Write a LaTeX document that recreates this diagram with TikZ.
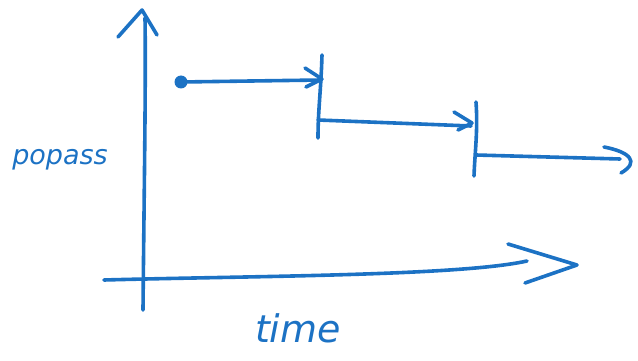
\documentclass[tikz,border=0pt]{standalone}
\usepackage{fontspec}
\setmainfont{DejaVu Sans}
\definecolor{pen}{RGB}{28,114,196}
\tikzset{
  stroke/.style={draw=pen, line width=3.6pt, line cap=round, line join=round},
  label/.style={text=pen, inner sep=0pt}
}
\begin{document}
\begin{tikzpicture}[x=1pt,y=-1pt]
\useasboundingbox (0,0) rectangle (638,361);
% coordinates
\coordinate (ybot) at (143,310);
\coordinate (ytop) at (145,18);
\coordinate (xl) at (104,280);
\coordinate (xr) at (527,261);
\coordinate (dot) at (181,82);
\coordinate (a1) at (321,80);
\coordinate (t1top) at (322,55);
\coordinate (t1bot) at (318,138);
\coordinate (b0) at (318,120);
\coordinate (b1) at (471,126);
\coordinate (t2top) at (476,102);
\coordinate (t2bot) at (474,176);
\coordinate (c0) at (476,155);
\coordinate (c1) at (620,159);
% y axis
\draw[stroke] (ybot) .. controls (144,200) and (146,80) .. (ytop);
\draw[stroke] (118,37) -- (142,10) -- (157,35);
% x axis
\draw[stroke] (xl) .. controls (250,276) and (460,276) .. (xr);
\draw[stroke] (508,244) -- (577,265) -- (525,283);
% steps
\fill[pen] (dot) circle (6.5);
\draw[stroke] (dot) -- (a1);
\draw[stroke] (305,68) -- (322,79) -- (306,87);
\draw[stroke] (t1top) .. controls (321,90) and (318,110) .. (t1bot);
\draw[stroke] (b0) -- (b1);
\draw[stroke] (454,112) -- (472,123) -- (458,130);
\draw[stroke] (t2top) .. controls (478,130) and (475,150) .. (t2bot);
\draw[stroke] (c0) -- (c1);
\draw[stroke] (604,147) .. controls (630,152) and (640,162) .. (621,173);
% labels
\node[label, font=\fontsize{27}{30}\selectfont\itshape] (ylab) at (60,160) {popass};
\node[label, font=\fontsize{38}{40}\selectfont\itshape] (xlab) at (298,328) {time};
\end{tikzpicture}
\end{document}
